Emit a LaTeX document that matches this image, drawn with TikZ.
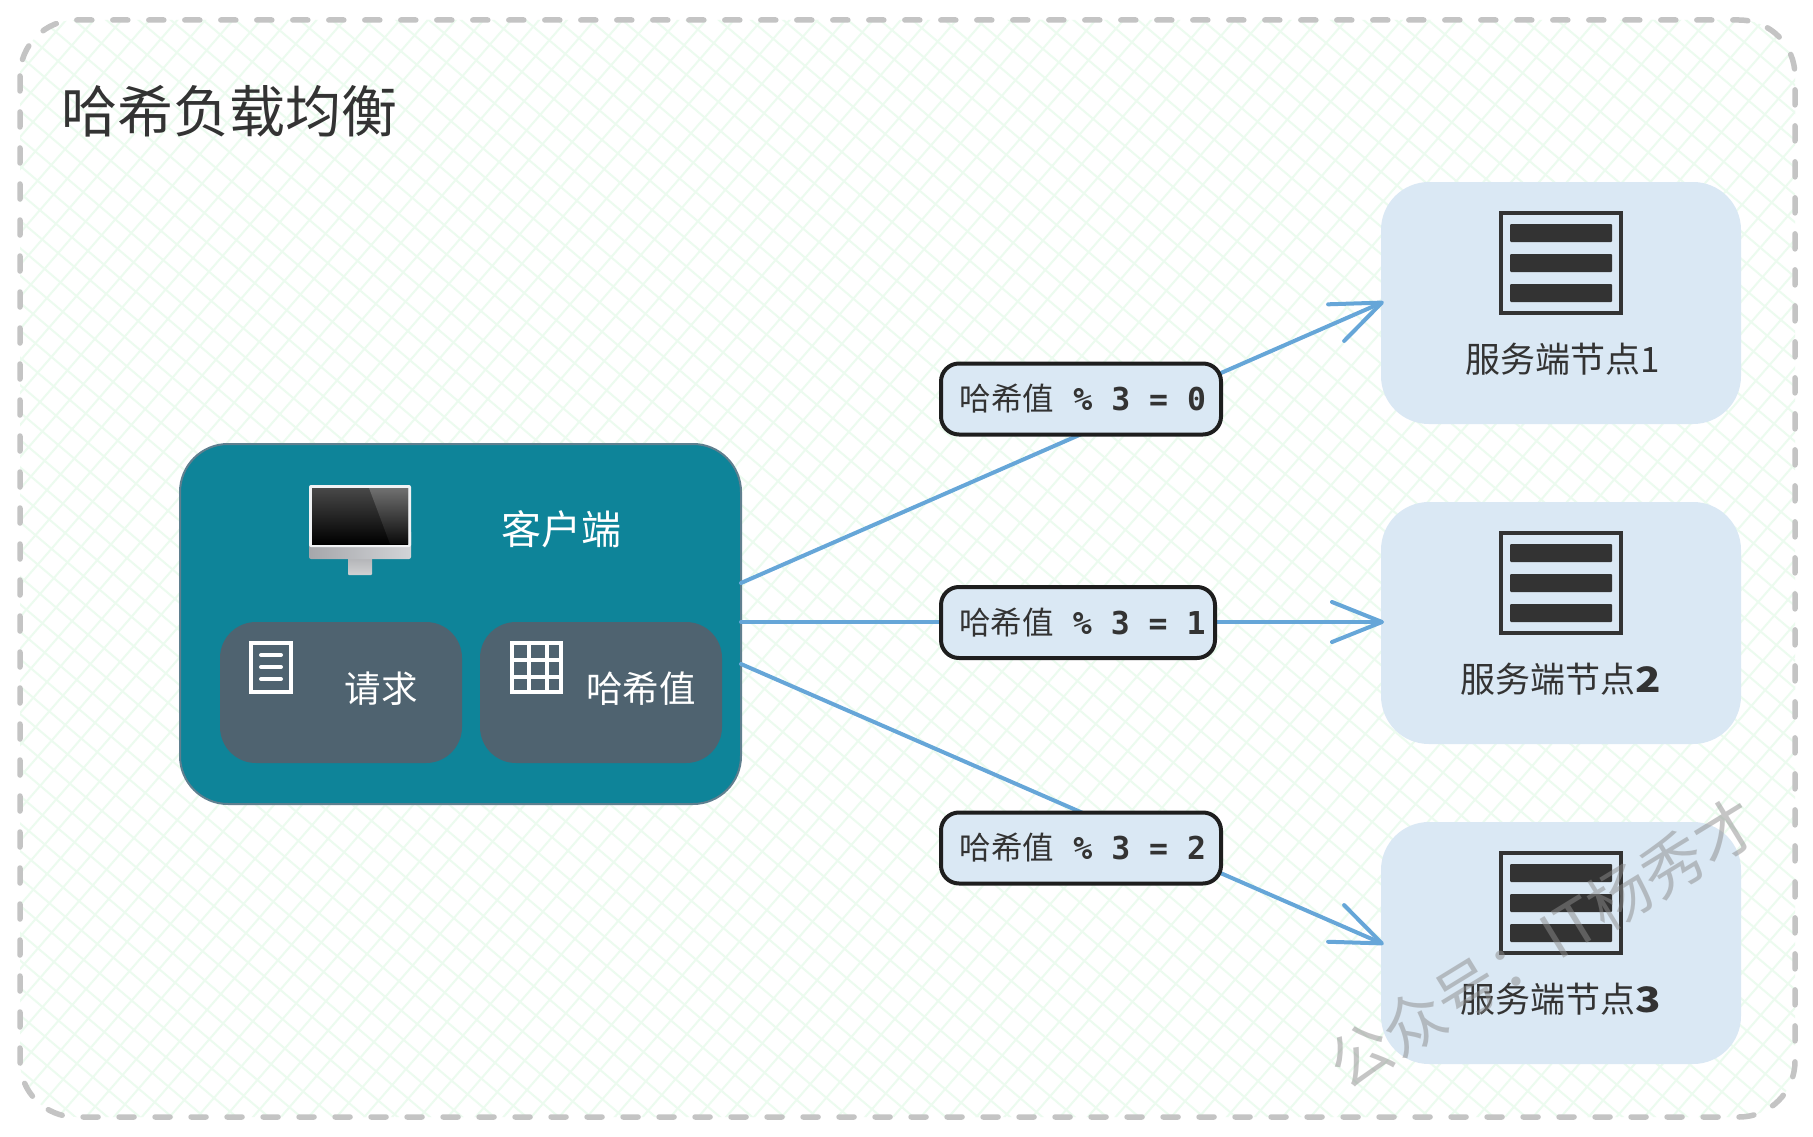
\documentclass[tikz,border=0pt]{standalone}
\usepackage{fontspec}
\usetikzlibrary{arrows.meta}
\setmainfont{Noto Sans CJK SC}
\newfontfamily\monof{DejaVu Sans Mono Bold}
\definecolor{ink}{HTML}{333333}
\definecolor{edgeink}{HTML}{1E1E1E}
\definecolor{dashgrey}{HTML}{C4C4C4}
\definecolor{hatch}{HTML}{ECFBEF}
\definecolor{teal}{HTML}{0E8499}
\definecolor{tealedge}{HTML}{5F7F8F}
\definecolor{slate}{HTML}{4F6370}
\definecolor{pale}{HTML}{DAE8F4}
\definecolor{wire}{HTML}{66A6D8}
\definecolor{frameW}{HTML}{F0F2F4}
\definecolor{chinL}{HTML}{A6A7AB}
\definecolor{chinR}{HTML}{D2D4D7}
\definecolor{standT}{HTML}{AEAFB2}
\definecolor{standB}{HTML}{D0D1D3}
\definecolor{scrT}{HTML}{484848}
\definecolor{glareT}{HTML}{707070}
\definecolor{glareB}{HTML}{0A0A0A}
\tikzset{
  x=1pt,y=-1pt,
  clientbox/.style={draw=tealedge,line width=2pt,fill=teal,rounded corners=48pt,minimum width=561pt,minimum height=360pt,outer sep=0pt,inner sep=0pt},
  innerbox/.style={fill=slate,rounded corners=36pt,minimum width=242pt,minimum height=141pt,outer sep=0pt,inner sep=0pt},
  serverbox/.style={fill=pale,rounded corners=48pt,minimum width=360pt,minimum height=242pt,outer sep=0pt,inner sep=0pt},
  whitelabel/.style={text=white,font=\fontsize{36.5}{40}\selectfont,inner sep=0pt},
  serverlabel/.style={text=ink,font=\fontsize{35}{40}\selectfont,inner sep=0pt},
  wirelabel/.style={draw=edgeink,line width=4pt,fill=pale,rounded corners=18pt,minimum height=71pt,outer sep=0pt,inner sep=0pt,text=ink},
  wireline/.style={draw=wire,line width=4pt,line cap=round,line join=round,shorten >=-3pt,-{Straight Barb[length=50pt,width=40pt,line width=4pt,round]}},
  iconline/.style={draw=white,line width=4pt,line join=miter},
}
\newcommand{\srvicon}[2]{%
  \draw[ink,line width=4.5pt] (#1-60,#2-50) rectangle (#1+60,#2+50);
  \fill[ink,rounded corners=1pt] (#1-51,#2-39) rectangle (#1+51,#2-21);
  \fill[ink,rounded corners=1pt] (#1-51,#2-9) rectangle (#1+51,#2+9);
  \fill[ink,rounded corners=1pt] (#1-51,#2+21) rectangle (#1+51,#2+39);
}
\newcommand{\lbl}[2]{\hspace*{#2}\raisebox{2pt}{{\fontsize{31.5}{36}\selectfont 哈希值}{\monof\fontsize{31.5}{36}\selectfont\ \%\ 3\ =\ #1}}}
\newcommand{\wdigit}[1]{\scalebox{1.2}[1]{\textbf{#1}}}
\begin{document}
\begin{tikzpicture}
\useasboundingbox (0,0) rectangle (1813,1137);
\fill[white] (0,0) rectangle (1813,1137);
% hatched field
\begin{scope}
  \clip[rounded corners=56pt] (20,20) rectangle (1795,1117);
  \foreach \c in {0,32,...,3232}
    \draw[hatch,line width=2pt] (0,\c) -- (1813,\c-2085);
  \foreach \c in {-1550,-1522.6,...,1137}
    \draw[hatch,line width=2pt] (0,\c) -- (1813,\c+1541);
\end{scope}
\draw[dashgrey,line width=5.5pt,line cap=round,dash pattern=on 15pt off 21pt,rounded corners=56pt] (20,20) rectangle (1795,1117);
\node[text=ink,font=\fontsize{56}{60}\selectfont,inner sep=0pt] (title) at (229,111) {哈希负载均衡};
% client
\node[clientbox] (client) at (460.5,624) {};
\node[innerbox] (req) at (341,692.5) {};
\node[innerbox] (hash) at (601,692.5) {};
\node[whitelabel,font=\fontsize{40}{44}\selectfont] (clientlabel) at (561,529) {客户端};
\node[whitelabel] (reqlabel) at (381,689) {请求};
\node[whitelabel] (hashlabel) at (641,689) {哈希值};
% monitor
\shade[top color=standT,bottom color=standB,rounded corners=1pt] (348,555) rectangle (372,575);
\shade[left color=chinL,right color=chinR,rounded corners=2pt] (309,530) rectangle (411,559);
\fill[frameW,rounded corners=2pt] (309,485) rectangle (411,547);
\shade[top color=scrT,bottom color=black] (312,488) rectangle (408,544);
\shade[top color=glareT,bottom color=glareB] (369,488) -- (408,488) -- (408,544) -- (390,544) -- cycle;
% doc icon
\draw[iconline] (251,643) rectangle (291,692);
\draw[iconline,line cap=round] (261,655) -- (281,655) (261,667) -- (281,667) (261,679) -- (281,679);
% table icon
\draw[iconline] (511.5,643) rectangle (561,692);
\draw[iconline] (529,643) -- (529,692) (547,643) -- (547,692) (511.5,660) -- (561,660) (511.5,677) -- (561,677);
% servers
\node[serverbox] (s1) at (1561,303) {};
\node[serverbox] (s2) at (1561,623) {};
\node[serverbox] (s3) at (1561,943) {};
\srvicon{1561}{263}
\srvicon{1561}{583}
\srvicon{1561}{903}
\node[serverlabel] (s1label) at (1563,359) {服务端节点1};
\node[serverlabel] (s2label) at (1561,679) {服务端节点\wdigit{2}};
\node[serverlabel] (s3label) at (1561,999) {服务端节点\wdigit{3}};
% connectors
\draw[wireline] ([yshift=41pt]client.east) -- (s1.west);
\draw[wireline] ([yshift=2pt]client.east) -- ([yshift=1pt]s2.west);
\draw[wireline] ([yshift=-40pt]client.east) -- (s3.west);
\node[wirelabel,minimum width=280pt] (h0) at (1081,399) {\lbl{0}{4pt}};
\node[wirelabel,minimum width=274pt] (h1) at (1078,622.5) {\lbl{1}{9pt}};
\node[wirelabel,minimum width=280pt] (h2) at (1081,848) {\lbl{2}{4pt}};
% watermark
\node[rotate=31.5,text=black!45,opacity=.5,font=\fontsize{62}{66}\selectfont,inner sep=0pt] (wm) at (1543,943) {公众号：IT杨秀才};
\end{tikzpicture}
\end{document}
